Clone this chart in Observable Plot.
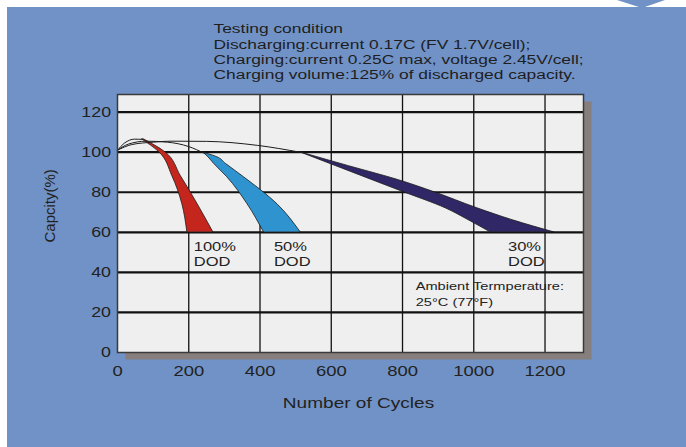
<!DOCTYPE html>
<html>
<head>
<meta charset="utf-8">
<script src="https://cdn.jsdelivr.net/npm/d3@7"></script>
<script src="https://cdn.jsdelivr.net/npm/@observablehq/plot@0.6"></script>
<style>
  html, body { margin: 0; padding: 0; background: #ffffff; }
  body { width: 686px; height: 447px; position: relative; overflow: hidden; }
  #bg { position: absolute; left: 7px; top: 7px; width: 679px; height: 440px; background: #7192c6; }
  #tail { position: absolute; left: 617px; top: 0; width: 48px; height: 8px; background: #7192c6;
          clip-path: polygon(0 0, 100% 0, 52% 100%); }
  #chart { position: absolute; left: 0; top: 0; }
</style>
</head>
<body>
<div id="bg"></div>
<div id="tail"></div>
<div id="chart"></div>
<script>
// ---- data ----
const xTicks = [0, 200, 400, 600, 800, 1000, 1200];
const yTicks = [0, 20, 40, 60, 80, 100, 120];
const xGrid = [200, 400, 600, 800, 1000, 1200];
const yGrid = [20, 40, 60, 80, 100, 120];

// 100% DOD band (capacity level, left and right cycle bounds), listed bottom to top
const redY     = [60, 74, 88, 100, 106.4];
const redLeft  = [196, 182, 154, 117, 69];
const redRight = [269, 225, 178, 134, 74];

// 50% DOD band
const blueY     = [60, 74, 87.5, 94.2, 97.5, 99.5];
const blueLeft  = [411, 365, 308, 271, 255, 243];
const blueRight = [514, 449, 355, 304, 280, 246];

// 30% DOD band
const navyY     = [60, 66, 72, 80, 86, 93, 100];
const navyLeft  = [1047, 986, 921, 804, 716, 614, 512];
const navyRight = [1225, 1110, 1010, 890, 790, 650, 512];

// thin lead-in curves
const curveAX = [0, 20, 48, 69];
const curveAY = [101, 104.6, 106.5, 106.4];
const curveBX = [0, 30, 80, 140, 200, 243];
const curveBY = [101, 104, 105.5, 105, 102.8, 99.5];
const curveCX = [0, 40, 100, 150, 250, 393, 512];
const curveCY = [101, 103.8, 105, 105.5, 105.4, 103.4, 100];

const dodTop = ["100%", "50%", "30%"];
const dodBottom = ["DOD", "DOD", "DOD"];
const dodX = [214, 439, 1096];
const dodTopY = 52.8;
const dodBottomY = 45.3;

const ambientLines = ["Ambient Termperature:", "25°C (77°F)"];
const ambientX = 837;
const ambientY = [32.8, 25.3];

const headerLines = [
  "Testing condition",
  "Discharging:current 0.17C (FV 1.7V/cell);",
  "Charging:current 0.25C max, voltage 2.45V/cell;",
  "Charging volume:125% of discharged capacity."
];

const xTitle = "Number of Cycles";
const yTitle = "Capcity(%)";

// ---- helpers ----
const idx = arr => arr.map((_, i) => i);
const band = (ys, l, r, fill) => Plot.areaX(idx(ys), {
  y: i => ys[i], x1: i => l[i], x2: i => r[i],
  curve: "monotone-y", fill, stroke: "#1c1c1c", strokeWidth: 0.8
});
const thin = (xs, ys) => Plot.line(idx(xs), {
  x: i => xs[i], y: i => ys[i], curve: "monotone-x",
  stroke: "#1c1c1c", strokeWidth: 1
});

const headerMarks = headerLines.map((t, i) => Plot.text([t], {
  text: d => d, frameAnchor: "top-left", textAnchor: "start",
  dx: 96, dy: -71 + i * 15.4, fontSize: 13.7, fill: "#1e1e1e"
}));

const chart = Plot.plot({
  width: 686,
  height: 447,
  marginTop: 94,
  marginRight: 103,
  marginBottom: 95,
  marginLeft: 117,
  x: { domain: [0, 1308] },
  y: { domain: [0, 128.8] },
  style: { background: "transparent", fontFamily: "'Liberation Sans', Arial, sans-serif", color: "#222", overflow: "visible" },
  marks: [
    Plot.frame({ fill: "#877f7e", dx: 8, dy: 7 }),
    Plot.frame({ fill: "#efefef" }),
    Plot.ruleX(xGrid, { stroke: "#111", strokeWidth: 1.3 }),
    Plot.ruleY(yGrid, { stroke: "#111", strokeWidth: 2.2 }),
    band(redY, redLeft, redRight, "#c4261e"),
    band(blueY, blueLeft, blueRight, "#2e93cf"),
    band(navyY, navyLeft, navyRight, "#2f2766"),
    thin(curveAX, curveAY),
    thin(curveBX, curveBY),
    thin(curveCX, curveCY),
    Plot.frame({ stroke: "#3a3a3a", strokeWidth: 1.5 }),
    Plot.axisX(xTicks, { tickSize: 0, tickPadding: 13, fontSize: 14.5, label: null, fill: "#222", tickFormat: d => String(d) }),
    Plot.axisY(yTicks, { tickSize: 0, tickPadding: 6.5, fontSize: 14, label: null, fill: "#222", tickFormat: d => String(d) }),
    Plot.text(idx(dodTop), { x: i => dodX[i], y: () => dodTopY, text: i => dodTop[i], textAnchor: "start", fontSize: 13, fill: "#222" }),
    Plot.text(idx(dodBottom), { x: i => dodX[i], y: () => dodBottomY, text: i => dodBottom[i], textAnchor: "start", fontSize: 13, fill: "#222" }),
    Plot.text(idx(ambientLines), { x: () => ambientX, y: i => ambientY[i], text: i => ambientLines[i], textAnchor: "start", fontSize: 11.5, fill: "#222" }),
    Plot.text([xTitle], { text: d => d, frameAnchor: "bottom", dx: 8, dy: 55, fontSize: 15, fill: "#222" }),
    Plot.text([yTitle], { text: d => d, frameAnchor: "left", dx: -67, dy: 19, rotate: -90, fontSize: 15, fill: "#222" }),
    ...headerMarks
  ]
});

document.getElementById("chart").append(chart);

// horizontal stretch of lettering to match the reference's wide glyphs
const STRETCH = 1.27;
chart.querySelectorAll("text").forEach(t => {
  if (t.textContent === yTitle) return;
  const L = t.getComputedTextLength();
  if (L > 0) {
    t.setAttribute("textLength", (L * STRETCH).toFixed(2));
    t.setAttribute("lengthAdjust", "spacingAndGlyphs");
  }
});
</script>
</body>
</html>
